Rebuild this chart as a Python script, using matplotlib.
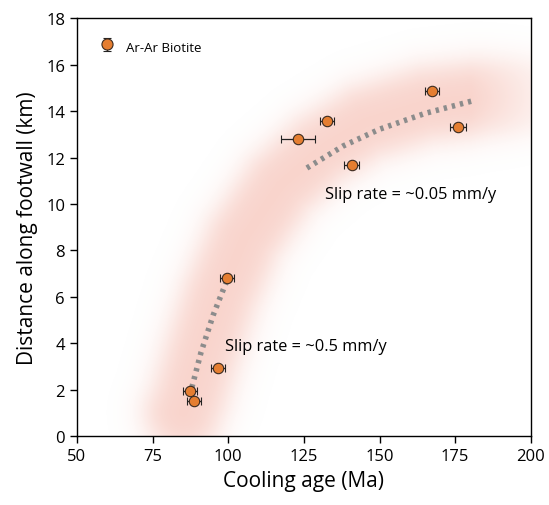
import numpy as np
import matplotlib.pyplot as plt

plt.rcParams['font.family'] = ['Open Sans', 'DejaVu Sans']

# Ar-Ar biotite cooling ages
age = [123.0, 132.6, 140.8, 167.3, 175.9, 99.6, 96.6, 87.3, 88.7]
age_err = [5.7, 2.4, 2.4, 2.4, 2.6, 2.3, 2.3, 2.3, 2.3]
dist = [12.79, 13.57, 11.67, 14.86, 13.31, 6.80, 2.93, 1.94, 1.51]

# slip-rate trend lines
fast_x = [88.0, 91.0, 95.0, 100.0]
fast_y = [2.1, 3.6, 5.2, 6.85]
slow_x = [126.0, 138.0, 150.0, 165.0, 181.0]
slow_y = [11.55, 12.5, 13.22, 13.9, 14.45]

# centre line of the shaded band
band_x = [85, 87, 91, 97, 105, 117, 130, 145, 165, 185, 210]
band_y = [1.0, 1.7, 3.5, 6.0, 8.5, 10.8, 12.3, 13.5, 14.3, 14.6, 14.7]

fig = plt.figure(figsize=(5.49, 5.06), dpi=100)
ax = fig.add_axes([0.140, 0.136, 0.827, 0.826])

# blurred band as an image
sx, sy = 3.027, 23.22  # px per data unit
gx, gy = np.meshgrid(np.linspace(50, 200, 400), np.linspace(0, 18, 400))
t = np.linspace(0, 1, 800)
cx = np.interp(t, np.linspace(0, 1, len(band_x)), band_x)
cy = np.interp(t, np.linspace(0, 1, len(band_y)), band_y)
d = np.full(gx.shape, 1e9)
for px, py in zip(cx, cy):
    d = np.minimum(d, np.hypot((gx - px) * sx, (gy - py) * sy))
inten = 1 / (1 + np.exp((d - 36) / 9.0))
fade = np.clip((215 - gx) / 35, 0, 1)
rgba = np.zeros(gx.shape + (4,))
rgba[..., 0] = 0.94
rgba[..., 1] = 0.55
rgba[..., 2] = 0.47
rgba[..., 3] = 0.38 * inten * fade
ax.imshow(rgba, extent=[50, 200, 0, 18], origin='lower', aspect='auto', zorder=0)

ax.plot(fast_x, fast_y, ls=(0, (0.6, 0.9)), color='#8c8c8c', lw=4, zorder=2)
ax.plot(slow_x, slow_y, ls=(0, (0.6, 0.9)), color='#8c8c8c', lw=4, zorder=2)

ax.errorbar(age, dist, xerr=age_err, fmt='o', ms=7.5, mfc='#e57e31', mec='#3a2a20',
            mew=0.8, ecolor='#222222', elinewidth=0.9, capsize=3, capthick=0.9, zorder=3)

ax.text(98.9, 3.88, 'Slip rate = ~0.5 mm/y', fontsize=11.8, va='center')
ax.text(131.9, 10.42, 'Slip rate = ~0.05 mm/y', fontsize=11.8, va='center')

h = ax.errorbar([np.nan], [np.nan], yerr=[1.0], fmt='o', ms=8, mfc='#e57e31',
                mec='#3a2a20', mew=0.8, ecolor='#222222', elinewidth=0.9,
                capsize=3, capthick=0.9)
ax.legend([h], ['Ar-Ar Biotite'], loc='upper left', frameon=False, fontsize=9.5,
          handletextpad=0.6, handlelength=1.6, handleheight=1.6, borderaxespad=1.1)

ax.set_xlim(50, 200)
ax.set_ylim(0, 18)
ax.set_xticks(range(50, 201, 25))
ax.set_yticks(range(0, 19, 2))
ax.tick_params(labelsize=12, length=5, width=1)
ax.set_xlabel('Cooling age (Ma)', fontsize=15)
ax.set_ylabel('Distance along footwall (km)', fontsize=15, labelpad=6)
for s in ax.spines.values():
    s.set_linewidth(1)

fig.savefig('out.png', dpi=100)
